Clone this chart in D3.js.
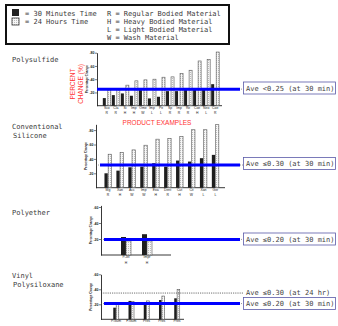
<!DOCTYPE html>
<html>
<head>
<meta charset="utf-8">
<script src="https://cdn.jsdelivr.net/npm/d3@7"></script>
<style>
  body { margin: 0; background: #fff; }
  .mono { font-family: "DejaVu Sans Mono", monospace; fill: #3a3a3a; }
  .tiny { font-family: "Liberation Sans", Arial, sans-serif; fill: #222; }
  .red { font-family: "Liberation Sans", Arial, sans-serif; fill: #ff3333; }
</style>
</head>
<body>
<div id="chart"></div>
<script>
// legend text
const legendTime = ["= 30 Minutes Time", "= 24 Hours Time"];
const legendBody = ["R = Regular Bodied Material", "H = Heavy Bodied Material",
                    "L = Light Bodied Material", "W = Wash Material"];

// panel titles
const panelTitles = [["Polysulfide"], ["Conventional", "Silicone"], ["Polyether"], ["Vinyl", "Polysiloxane"]];

// Polysulfide
const polyNames = ["Sco", "Cla", "Si", "Imp", "Ome", "Imp", "Pe", "Sp", "Imp", "Re", "Coe", "Neo", "Coe"];
const polyTypes = ["R", "R", "H", "H", "W", "L", "L", "R", "R", "R", "H", "L", "R"];
const poly30 = [0.115, 0.16, 0.185, 0.15, 0.235, 0.11, 0.135, 0.22, 0.22, 0.245, 0.255, 0.255, 0.325];
const poly24 = [0.24, 0.25, 0.31, 0.375, 0.39, 0.40, 0.43, 0.435, 0.485, 0.535, 0.675, 0.70, 0.81];

// Conventional silicone
const silNames = ["Mg", "Xan", "Acc", "Imp", "Exa", "Dent", "Cut", "Cit", "Xan", "Ger"];
const silTypes = ["R", "H", "W", "W", "H", "R", "H", "W", "L", "L"];
const sil30 = [0.20, 0.237, 0.284, 0.293, 0.34, 0.293, 0.377, 0.363, 0.41, 0.456];
const sil24 = [0.465, 0.49, 0.525, 0.59, 0.674, 0.684, 0.71, 0.805, 0.805, 0.875];

// Polyether
const pethNames = ["P.Jel", "Impr"];
const pethTypes = ["H", "H"];
const peth30 = [0.225, 0.26];
const peth24 = [0.175, 0.175];

// Vinyl polysiloxane
const vpsNames = ["P.Gum", "F.Gum", "Pres", "Pres", "Pres"];
const vpsTypes = ["", "", "", "", ""];
const vps30 = [0.155, 0.245, 0.22, 0.257, 0.28];
const vps24 = [0.195, 0.235, 0.245, 0.31, 0.40];

// y ticks per panel
const ticksBig = [0.2, 0.4, 0.6, 0.8];
const ticksSmall = [0.2, 0.4, 0.6];

// average lines (position as drawn) and their labels
const aveValues = [0.25, 0.315, 0.195, 0.21];
const aveLabels = ["Ave <0.25 (at 30 min)", "Ave \u22640.30 (at 30 min)", "Ave \u22640.20 (at 30 min)", "Ave \u22640.20 (at 30 min)"];
const ave24Value = 0.35;
const ave24Label = "Ave \u22640.30 (at 24 hr)";

const width = 338, height = 326;

const svg = d3.select("#chart")
  .append("svg")
    .attr("width", width)
    .attr("height", height);

svg.append("rect").attr("width", width).attr("height", height).attr("fill", "#fff");

// stipple pattern for the 24 hr bars
const defs = svg.append("defs");
const pat = defs.append("pattern")
    .attr("id", "stip")
    .attr("width", 2).attr("height", 2)
    .attr("patternUnits", "userSpaceOnUse");
pat.append("rect").attr("width", 2).attr("height", 2).attr("fill", "#f7f7f7");
pat.append("rect").attr("width", 1).attr("height", 1).attr("fill", "#bdbdbd");

// legend
svg.append("rect")
  .attr("x", 6).attr("y", 5).attr("width", 223).attr("height", 39)
  .attr("fill", "none").attr("stroke", "#111").attr("stroke-width", 2);
svg.append("rect").attr("x", 12).attr("y", 9).attr("width", 7).attr("height", 7).attr("fill", "#222");
svg.append("rect").attr("x", 12).attr("y", 18).attr("width", 7).attr("height", 7)
  .attr("fill", "url(#stip)").attr("stroke", "#333").attr("stroke-width", 0.8);
svg.selectAll(".legTime")
  .data(legendTime)
  .join("text")
  .attr("class", "mono")
  .attr("x", 25).attr("y", (d, i) => 15.5 + i * 8.5)
  .style("font-size", "7px")
  .text(d => d);
svg.selectAll(".legBody")
  .data(legendBody)
  .join("text")
  .attr("class", "mono")
  .attr("x", 107).attr("y", (d, i) => 15.5 + i * 8.2)
  .style("font-size", "7px")
  .text(d => d);

// panel layout
const panels = [
  { names: polyNames, types: polyTypes, v30: poly30, v24: poly24, ticks: ticksBig,
    y0: 105.7, pxPer: 66.25, yMax: 0.8, xr: [102.3, 219.7], axisX: 97, axisEnd: 222,
    bw: 3, gap: 2, lineX: 97, titleY: 62, boxY: 82 },
  { names: silNames, types: silTypes, v30: sil30, v24: sil24, ticks: ticksBig,
    y0: 187.7, pxPer: 72, yMax: 0.88, xr: [102, 221.3], axisX: 96, axisEnd: 225,
    bw: 3.3, gap: 0.4, lineX: 100, titleY: 128.5, boxY: 157.5 },
  { names: pethNames, types: pethTypes, v30: peth30, v24: peth24, ticks: ticksSmall,
    y0: 255, pxPer: 80, yMax: 0.62, xr: [115.5, 157.5], axisX: 101, axisEnd: 171,
    bw: 5, gap: 0, lineX: 104, titleY: 214.5, boxY: 233 },
  { names: vpsNames, types: vpsTypes, v30: vps30, v24: vps24, ticks: ticksSmall,
    y0: 319.3, pxPer: 75, yMax: 0.6, xr: [108.4, 184.6], axisX: 101, axisEnd: 184,
    bw: 2.6, gap: 0.3, lineX: 104, titleY: 277.5, boxY: 297.5 }
];

panels.forEach((p, k) => {
  const g = svg.append("g");

  const y = d3.scaleLinear()
    .domain([0, p.yMax])
    .range([p.y0, p.y0 - p.yMax * p.pxPer]);

  const x = d3.scaleBand()
    .domain(d3.range(p.names.length))
    .range(p.xr);

  // title
  g.selectAll(".title")
    .data(panelTitles[k])
    .join("text")
    .attr("class", "mono")
    .attr("x", (d, i) => i === 0 ? 12 : 13)
    .attr("y", (d, i) => p.titleY + i * 9)
    .style("font-size", "7px")
    .text(d => d);

  // y axis
  const yAxis = g.append("g")
    .attr("transform", `translate(${p.axisX},0)`)
    .call(d3.axisLeft(y)
      .tickValues(p.ticks)
      .tickSize(2)
      .tickSizeOuter(0)
      .tickFormat(d => d3.format(".2f")(d).slice(1)));
  yAxis.selectAll("text").attr("class", "tiny").style("font-size", "3.6px").style("font-weight", "bold").attr("x", -2.5);
  yAxis.select(".domain").attr("stroke", "#222").attr("stroke-width", 0.9);
  yAxis.selectAll(".tick line").attr("stroke", "#222").attr("stroke-width", 0.6);

  g.append("text")
    .attr("class", "tiny")
    .attr("transform", `translate(${p.axisX - 9},${y(p.yMax / 2)}) rotate(-90)`)
    .attr("text-anchor", "middle")
    .style("font-size", "3px")
    .style("font-weight", "bold")
    .text("Percentage Change");

  // baseline
  g.append("line")
    .attr("x1", p.axisX).attr("x2", p.axisEnd)
    .attr("y1", y(0)).attr("y2", y(0))
    .attr("stroke", "#222").attr("stroke-width", 0.9);

  // x labels
  const xAxis = g.append("g")
    .attr("transform", `translate(0,${y(0)})`)
    .call(d3.axisBottom(x).tickSize(0).tickFormat(i => p.names[i]));
  xAxis.select(".domain").remove();
  xAxis.selectAll("text").attr("class", "tiny").style("font-size", "3.4px").attr("dy", "0.3em").attr("y", 2);

  g.selectAll(".typ")
    .data(p.types)
    .join("text")
    .attr("class", "tiny")
    .attr("x", (d, i) => x(i) + x.bandwidth() / 2)
    .attr("y", y(0) + 8.5)
    .attr("text-anchor", "middle")
    .style("font-size", "3.4px")
    .text(d => d);

  const cx = i => x(i) + x.bandwidth() / 2;

  // 30 minute bars
  g.selectAll(".b30")
    .data(p.v30)
    .join("rect")
    .attr("x", (d, i) => cx(i) - p.gap / 2 - p.bw)
    .attr("width", p.bw)
    .attr("y", d => y(d))
    .attr("height", d => y(0) - y(d))
    .attr("fill", "#1e1e1e");

  // 24 hour bars
  g.selectAll(".b24")
    .data(p.v24)
    .join("rect")
    .attr("x", (d, i) => cx(i) + p.gap / 2)
    .attr("width", p.bw)
    .attr("y", d => y(d))
    .attr("height", d => y(0) - y(d))
    .attr("fill", "url(#stip)")
    .attr("stroke", "#555")
    .attr("stroke-width", 0.6);

  // dotted extension and blue average line
  g.append("line")
    .attr("x1", p.axisX).attr("x2", 243)
    .attr("y1", y(aveValues[k])).attr("y2", y(aveValues[k]))
    .attr("stroke", "#555").attr("stroke-width", 0.6).attr("stroke-dasharray", "1,1");
  g.append("line")
    .attr("x1", p.lineX).attr("x2", 240)
    .attr("y1", y(aveValues[k])).attr("y2", y(aveValues[k]))
    .attr("stroke", "#0000ff").attr("stroke-width", 3);

  // label box
  g.append("rect")
    .attr("x", 243.5).attr("y", p.boxY)
    .attr("width", 92).attr("height", 12)
    .attr("fill", "#fff").attr("stroke", "#5a5aa8").attr("stroke-width", 0.8);
  g.append("text")
    .attr("class", "mono")
    .attr("x", 246).attr("y", p.boxY + 8.5)
    .style("font-size", "7px")
    .style("fill", "#444")
    .text(aveLabels[k]);

  // 24 hr average for the last panel
  if (k === 3) {
    g.append("line")
      .attr("x1", p.axisX).attr("x2", 244)
      .attr("y1", y(ave24Value)).attr("y2", y(ave24Value))
      .attr("stroke", "#333").attr("stroke-width", 0.7).attr("stroke-dasharray", "1.2,1");
    g.append("text")
      .attr("class", "mono")
      .attr("x", 246).attr("y", y(ave24Value) + 2)
      .style("font-size", "7px")
      .style("fill", "#444")
      .text(ave24Label);
  }
});

// red annotations
svg.append("text")
  .attr("class", "red")
  .attr("transform", "translate(75,84) rotate(-90)")
  .attr("text-anchor", "middle")
  .style("font-size", "6.5px")
  .text("PERCENT");
svg.append("text")
  .attr("class", "red")
  .attr("transform", "translate(82.5,84) rotate(-90)")
  .attr("text-anchor", "middle")
  .style("font-size", "6.5px")
  .text("CHANGE (%)");
svg.append("text")
  .attr("class", "red")
  .attr("x", 157).attr("y", 124.5)
  .attr("text-anchor", "middle")
  .style("font-size", "6.5px")
  .text("PRODUCT EXAMPLES");
</script>
</body>
</html>
